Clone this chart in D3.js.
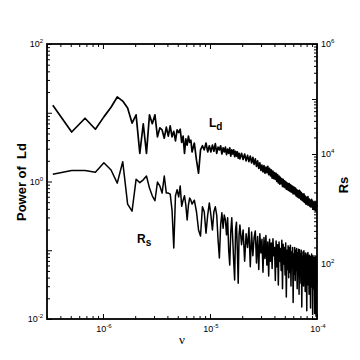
<!DOCTYPE html>
<html>
<head>
<meta charset="utf-8">
<script src="https://cdn.jsdelivr.net/npm/d3@7"></script>
<style>
  html, body { margin: 0; padding: 0; background: #fff; }
  svg { display: block; font-family: "Liberation Sans", Arial, sans-serif; }
</style>
</head>
<body>
<svg id="chart"></svg>
<script>
// frequency step of the spectrum, nu = harmonic * dNu
const dNu = 1.7e-7;

const harmonic = [
  2, 3, 4, 5, 6, 7, 8, 9, 10, 11, 12, 13, 14, 15, 16, 17, 18, 19, 20,
  21, 22, 23, 24, 25, 26, 27, 28, 29, 30, 31, 32, 33, 34, 35, 36, 37, 38, 39, 40,
  42, 44, 46, 48, 50, 52, 54, 56, 58, 60, 62, 64, 66, 68, 70, 72, 74, 76, 78, 80,
  82, 84, 86, 88, 90, 92, 94, 96, 98, 100, 102, 104, 106, 108, 110, 112,
  116, 120, 124, 128, 132, 136, 140,
  144, 148, 152, 156, 160,
  164, 168, 172, 176, 180,
  184, 188, 192, 196, 200,
  204, 208, 212, 216, 220, 224, 228, 232, 236, 240,
  244, 248, 252, 256, 260, 264, 268, 272, 276, 280,
  284, 288, 292, 296, 300, 304, 308, 312, 316, 320,
  324, 328, 332, 336, 340, 344, 348, 352, 356, 360,
  364, 368, 372, 376, 380, 384, 388, 392, 396, 400,
  404, 408, 412, 416, 420, 424, 428, 432, 436, 440,
  444, 448, 452, 456, 460, 464, 468, 472, 476, 480,
  484, 488, 492, 496, 500, 504, 508, 512, 516, 520,
  524, 528, 532, 536, 540, 544, 548, 552, 556, 560,
  564, 568, 572, 576, 580, 584
];

// log10 of power of Ld (left axis)
const ldLog = [
  1.11, 0.72, 0.92, 0.76, 0.94, 1.08, 1.23, 1.17, 1.07, 0.85, 0.97, 0.41, 0.84, 0.41, 0.97, 0.84, 0.97, 0.65, 0.78,
  0.75, 0.63, 0.79, 0.66, 0.81, 0.65, 0.73, 0.59, 0.75, 0.71, 0.76, 0.57, 0.66, 0.41, 0.62, 0.53, 0.66, 0.57, 0.60, 0.43,
  0.56, 0.31, 0.12, 0.46, 0.52, 0.46, 0.56, 0.43, 0.52, 0.43, 0.53, 0.44, 0.55, 0.41, 0.50, 0.46, 0.52, 0.40, 0.49, 0.43,
  0.50, 0.39, 0.47, 0.41, 0.49, 0.37, 0.46, 0.40, 0.46, 0.36, 0.44, 0.37, 0.43, 0.34, 0.41, 0.33,
  0.41, 0.32, 0.40, 0.30, 0.38, 0.29, 0.37,
  0.27, 0.35, 0.25, 0.33, 0.22,
  0.30, 0.19, 0.27, 0.16, 0.24,
  0.14, 0.23, 0.12, 0.21, 0.13,
  0.22, 0.10, 0.19, 0.08, 0.17, 0.05, 0.15, 0.04, 0.13, 0.03,
  0.12, 0.00, 0.10, -0.02, 0.08, -0.04, 0.06, -0.03, 0.04, -0.07,
  0.03, -0.08, 0.01, -0.09, 0.00, -0.11, -0.02, -0.12, -0.03, -0.13,
  -0.03, -0.14, -0.05, -0.15, -0.06, -0.16, -0.07, -0.18, -0.08, -0.17,
  -0.09, -0.19, -0.10, -0.21, -0.12, -0.22, -0.13, -0.23, -0.14, -0.24,
  -0.13, -0.24, -0.15, -0.26, -0.16, -0.27, -0.18, -0.28, -0.19, -0.29,
  -0.18, -0.30, -0.20, -0.31, -0.22, -0.33, -0.23, -0.32, -0.24, -0.34,
  -0.22, -0.33, -0.25, -0.35, -0.26, -0.36, -0.27, -0.37, -0.28, -0.36,
  -0.26, -0.37, -0.28, -0.39, -0.29, -0.40, -0.30, -0.41, -0.31, -0.40,
  -0.29, -0.42, -0.31, -0.43, -0.30, -0.38
];

// log10 of Rs (right axis)
const rsLog = [
  3.63, 3.70, 3.70, 3.67, 3.84, 3.71, 3.47, 3.86, 3.09, 2.96, 3.54, 3.48, 3.53, 3.60, 3.38, 3.24, 3.15, 3.49, 3.42,
  3.29, 3.60, 3.29, 3.29, 3.27, 2.98, 2.29, 3.24, 3.35, 3.22, 3.42, 3.05, 3.16, 3.24, 3.07, 2.80, 3.07, 3.20, 3.16, 3.09,
  3.16, 2.95, 2.62, 2.51, 3.04, 2.95, 2.56, 2.89, 3.11, 2.89, 2.62, 2.95, 3.04, 2.89, 2.44, 2.11, 2.71, 2.93, 2.65, 2.89,
  2.80, 2.53, 2.84, 2.25, 1.98, 2.58, 2.84, 2.44, 2.04, 1.71, 2.62, 2.76, 2.25, 1.65, 2.53, 2.71,
  2.35, 2.62, 2.05, 2.55, 2.30, 2.66, 1.95,
  2.58, 2.15, 2.48, 2.60, 2.02,
  2.50, 1.90, 2.55, 2.20, 2.45,
  1.85, 2.48, 2.10, 2.52, 1.98,
  2.40, 1.78, 2.45, 2.05, 2.38, 1.92, 2.46, 2.15, 2.30, 1.70,
  2.42, 1.95, 2.35, 1.62, 2.40, 2.05, 2.28, 1.88, 2.43, 1.55,
  2.36, 2.00, 2.30, 1.80, 2.38, 1.40, 2.25, 1.90, 2.33, 1.75,
  2.30, 1.85, 2.34, 1.60, 2.22, 1.95, 2.30, 1.30, 2.18, 1.82,
  2.30, 1.70, 2.25, 1.88, 2.28, 1.55, 2.20, 1.80, 2.27, 1.45,
  2.26, 1.78, 2.18, 1.65, 2.25, 1.22, 2.12, 1.75, 2.22, 1.60,
  2.24, 1.70, 2.15, 1.50, 2.20, 1.72, 2.10, 1.15, 2.18, 1.66,
  2.21, 1.62, 2.12, 1.45, 2.16, 1.68, 2.05, 1.20, 2.14, 1.58,
  2.18, 1.60, 2.10, 1.08, 2.15, 1.55, 2.02, 1.65, 2.12, 1.10,
  2.15, 1.58, 2.08, 1.05, 2.13, 1.62
];

const xDomain = [3.0e-7, 1e-4];
const leftDomain = [1e-2, 1e2];
const rightDomain = [1e1, 1e6];
const xLabels = [-6, -5, -4];
const leftLabels = [-2, 0, 2];
const rightLabels = [2, 4, 6];

const width = 360;
const height = 360;
const plot = { left: 47, right: 317, top: 44, bottom: 319 };

const svg = d3.select('#chart')
  .attr('width', width)
  .attr('height', height);

const x = d3.scaleLog().domain(xDomain).range([plot.left, plot.right]);
const yLeft = d3.scaleLog().domain(leftDomain).range([plot.bottom, plot.top]);
const yRight = d3.scaleLog().domain(rightDomain).range([plot.bottom, plot.top]);

function isDecade(t) {
  const l = Math.log10(t);
  return Math.abs(l - Math.round(l)) < 1e-6;
}

function addTicks(axisFn, scale, transform) {
  const all = scale.ticks();
  const major = all.filter(isDecade);
  const minor = all.filter(function(t) { return !isDecade(t); });
  [[major, -5], [minor, -3]].forEach(function(pair) {
    svg.append('g')
      .attr('transform', transform)
      .call(axisFn(scale).tickValues(pair[0]).tickSize(pair[1]).tickFormat(''))
      .call(function(g) {
        g.select('.domain').remove();
        g.selectAll('line').attr('stroke', '#000').attr('stroke-width', 1);
      });
  });
}

addTicks(d3.axisBottom, x, 'translate(0,' + plot.bottom + ')');
addTicks(d3.axisTop, x, 'translate(0,' + plot.top + ')');
addTicks(d3.axisLeft, yLeft, 'translate(' + plot.left + ',0)');
addTicks(d3.axisRight, yRight, 'translate(' + plot.right + ',0)');

// data lines
const pts = harmonic.map(function(k, i) {
  return { nu: k * dNu, ld: Math.pow(10, ldLog[i]), rs: Math.pow(10, rsLog[i]) };
});

const ldLine = d3.line()
  .x(function(d) { return x(d.nu); })
  .y(function(d) { return yLeft(d.ld); });

const rsLine = d3.line()
  .x(function(d) { return x(d.nu); })
  .y(function(d) { return yRight(d.rs); });

svg.append('path')
  .datum(pts)
  .attr('d', rsLine)
  .attr('fill', 'none')
  .attr('stroke', '#000')
  .attr('stroke-width', 1.5)
  .attr('stroke-linejoin', 'round');

svg.append('path')
  .datum(pts)
  .attr('d', ldLine)
  .attr('fill', 'none')
  .attr('stroke', '#000')
  .attr('stroke-width', 1.7)
  .attr('stroke-linejoin', 'round');

// frame
svg.append('rect')
  .attr('x', plot.left)
  .attr('y', plot.top)
  .attr('width', plot.right - plot.left)
  .attr('height', plot.bottom - plot.top)
  .attr('fill', 'none')
  .attr('stroke', '#000')
  .attr('stroke-width', 1.8);

// tick labels, 10 with superscript exponent
function powLabel(g, px, py, exp, anchor) {
  const t = g.append('text')
    .attr('x', px)
    .attr('y', py)
    .attr('text-anchor', anchor)
    .attr('font-size', 9)
    .attr('fill', '#000')
    .text('10');
  t.append('tspan')
    .attr('dy', -4)
    .attr('font-size', 6)
    .text(exp);
}

const labels = svg.append('g').attr('class', 'tick-labels');
xLabels.forEach(function(e) {
  powLabel(labels, x(Math.pow(10, e)) + 1, plot.bottom + 13, e, 'middle');
});
leftLabels.forEach(function(e) {
  powLabel(labels, plot.left - 4, yLeft(Math.pow(10, e)) + 3, e, 'end');
});
rightLabels.forEach(function(e) {
  powLabel(labels, plot.right + 4, yRight(Math.pow(10, e)) + 3, e, 'start');
});

// axis titles
svg.append('text')
  .attr('x', 182)
  .attr('y', 344)
  .attr('text-anchor', 'middle')
  .style('font-family', '"Liberation Serif", "Times New Roman", serif')
  .attr('font-size', 13)
  .text('ν');

svg.append('text')
  .attr('transform', 'translate(26,182) rotate(-90)')
  .attr('text-anchor', 'middle')
  .attr('font-size', 13)
  .attr('font-weight', 'bold')
  .style('white-space', 'pre')
  .text('Power of  Ld');

svg.append('text')
  .attr('transform', 'translate(348,185) rotate(-90)')
  .attr('text-anchor', 'middle')
  .attr('font-size', 13)
  .attr('font-weight', 'bold')
  .text('Rs');

// curve labels
const ldLabel = svg.append('text')
  .attr('x', 209)
  .attr('y', 127)
  .attr('font-size', 12)
  .attr('font-weight', 'bold')
  .text('L');
ldLabel.append('tspan').attr('dy', 3).attr('font-size', 10).text('d');

const rsLabel = svg.append('text')
  .attr('x', 137)
  .attr('y', 243)
  .attr('font-size', 12)
  .attr('font-weight', 'bold')
  .text('R');
rsLabel.append('tspan').attr('dy', 3).attr('font-size', 10).text('s');
</script>
</body>
</html>
